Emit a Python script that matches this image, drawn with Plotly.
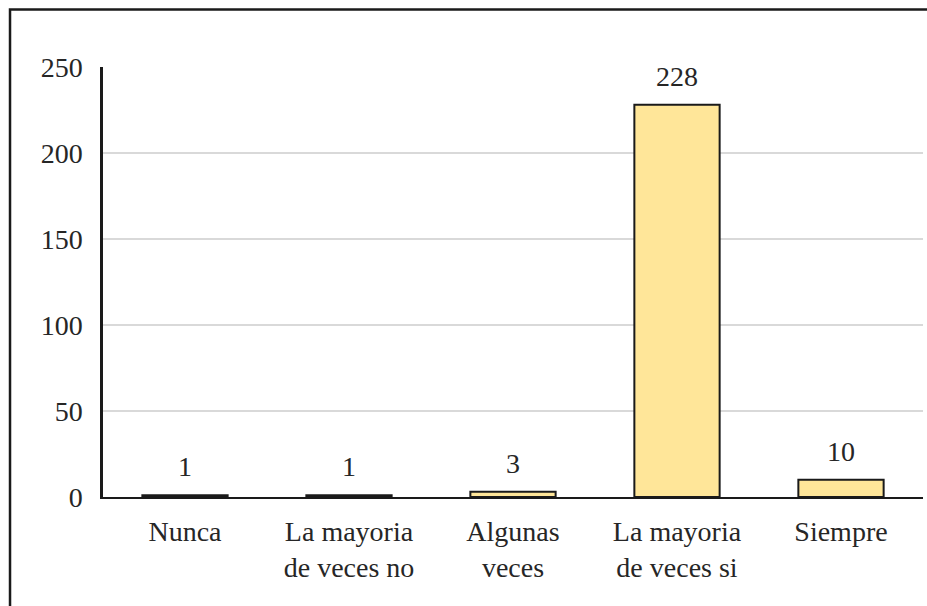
import plotly.graph_objects as go

categories = ["Nunca", "La mayoria<br>de veces no", "Algunas<br>veces", "La mayoria<br>de veces si", "Siempre"]
values = [1, 1, 3, 228, 10]
y_ticks = [0, 50, 100, 150, 200, 250]

FONT = '"Liberation Serif", "Times New Roman", serif'
FS = 28

fig = go.Figure()
fig.add_trace(go.Bar(
    x=categories, y=values,
    marker=dict(color="#FFE699", line=dict(color="#1a1a1a", width=2)),
    width=0.52,
    hoverinfo="skip",
))

for c, v in zip(categories, values):
    fig.add_annotation(x=c, y=v, text=str(v), showarrow=False,
                       yanchor="bottom", yshift=11,
                       font=dict(family=FONT, size=FS, color="#262626"))

fig.add_shape(type="rect", xref="paper", yref="paper",
              x0=-0.1134, x1=1.2, y0=1.1337, y1=-0.5,
              line=dict(color="#1a1a1a", width=2.5), fillcolor="rgba(0,0,0,0)",
              layer="above")

fig.update_layout(
    width=927, height=606,
    margin=dict(l=103, r=4, t=67, b=109),
    paper_bgcolor="white", plot_bgcolor="white",
    showlegend=False,
    bargap=0.48,
    font=dict(family=FONT, size=FS, color="#262626"),
    xaxis=dict(showline=True, linecolor="#1a1a1a", linewidth=2,
               ticks="", tickfont=dict(family=FONT, size=FS, color="#262626"),
               ticklabelstandoff=8, showgrid=False),
    yaxis=dict(range=[0, 250], tickvals=y_ticks, showline=True,
               linecolor="#1a1a1a", linewidth=2.5, showgrid=True,
               gridcolor="#d9d9d9", gridwidth=1.5, zeroline=False,
               ticks="", ticklabelstandoff=12,
               tickfont=dict(family=FONT, size=FS, color="#262626")),
)

fig.write_html("out.html")
